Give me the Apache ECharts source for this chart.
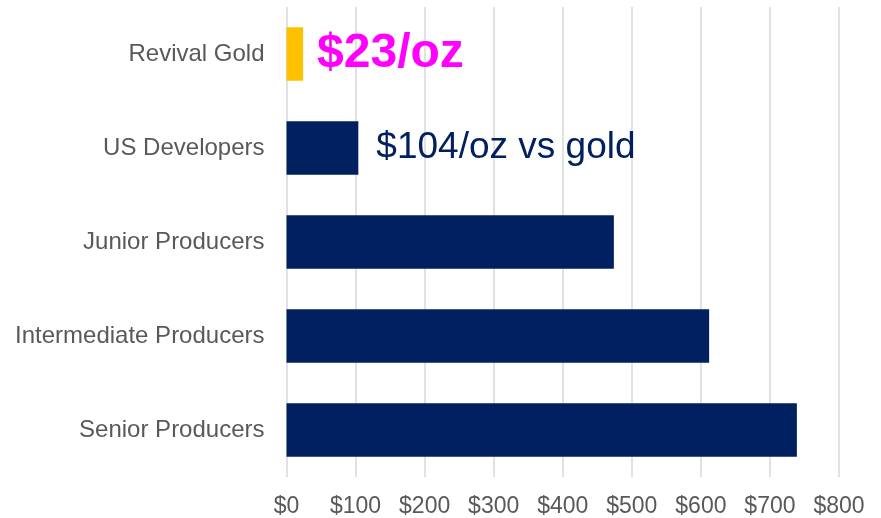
<!DOCTYPE html>
<html>
<head>
<meta charset="utf-8">
<script src="https://cdn.jsdelivr.net/npm/echarts@6/dist/echarts.min.js"></script>
<style>
  html, body { margin: 0; padding: 0; background: #fff; }
  #main { width: 881px; height: 518px; }
</style>
</head>
<body>
<div id="main"></div>
<script>
// data, top to bottom
const categories = ['Revival Gold', 'US Developers', 'Junior Producers', 'Intermediate Producers', 'Senior Producers'];
const costs = [24, 104, 474, 612, 739];
const barLabels = ['$23/oz', '$104/oz vs gold', '', '', ''];
const xTicks = [0, 100, 200, 300, 400, 500, 600, 700, 800];

const chart = echarts.init(document.getElementById('main'), null, { renderer: 'canvas' });

const labelStyles = [
  { fontSize: 48, fontWeight: 'bold', color: '#ff00ff', distance: 14 },
  { fontSize: 37, fontWeight: 'normal', color: '#002060', distance: 18 }
];

const seriesData = costs.map(function (v, i) {
  const item = {
    value: v,
    itemStyle: { color: i === 0 ? '#ffc000' : '#002060' }
  };
  if (barLabels[i]) {
    const s = labelStyles[i];
    item.label = {
      show: true,
      position: 'right',
      distance: s.distance,
      formatter: barLabels[i],
      fontFamily: 'Liberation Sans, Arial, sans-serif',
      fontSize: s.fontSize,
      fontWeight: s.fontWeight,
      color: s.color
    };
  }
  return item;
});

const option = {
  animation: false,
  grid: { left: 286.5, right: 42, top: 7, bottom: 41, containLabel: false },
  xAxis: {
    type: 'value',
    min: xTicks[0],
    max: xTicks[xTicks.length - 1],
    interval: 100,
    axisLine: { show: false },
    axisTick: { show: false },
    splitLine: { show: true, lineStyle: { color: '#d9d9d9', width: 1.5 } },
    axisLabel: {
      margin: 18,
      fontFamily: 'Liberation Sans, Arial, sans-serif',
      fontSize: 23,
      color: '#595959',
      formatter: function (v) { return '$' + v; }
    }
  },
  yAxis: {
    type: 'category',
    inverse: true,
    data: categories,
    axisLine: { show: false },
    axisTick: { show: false },
    axisLabel: {
      margin: 22,
      fontFamily: 'Liberation Sans, Arial, sans-serif',
      fontSize: 24,
      color: '#595959'
    }
  },
  series: [
    {
      type: 'bar',
      data: seriesData,
      barCategoryGap: '43%'
    }
  ]
};

chart.setOption(option);
</script>
</body>
</html>
